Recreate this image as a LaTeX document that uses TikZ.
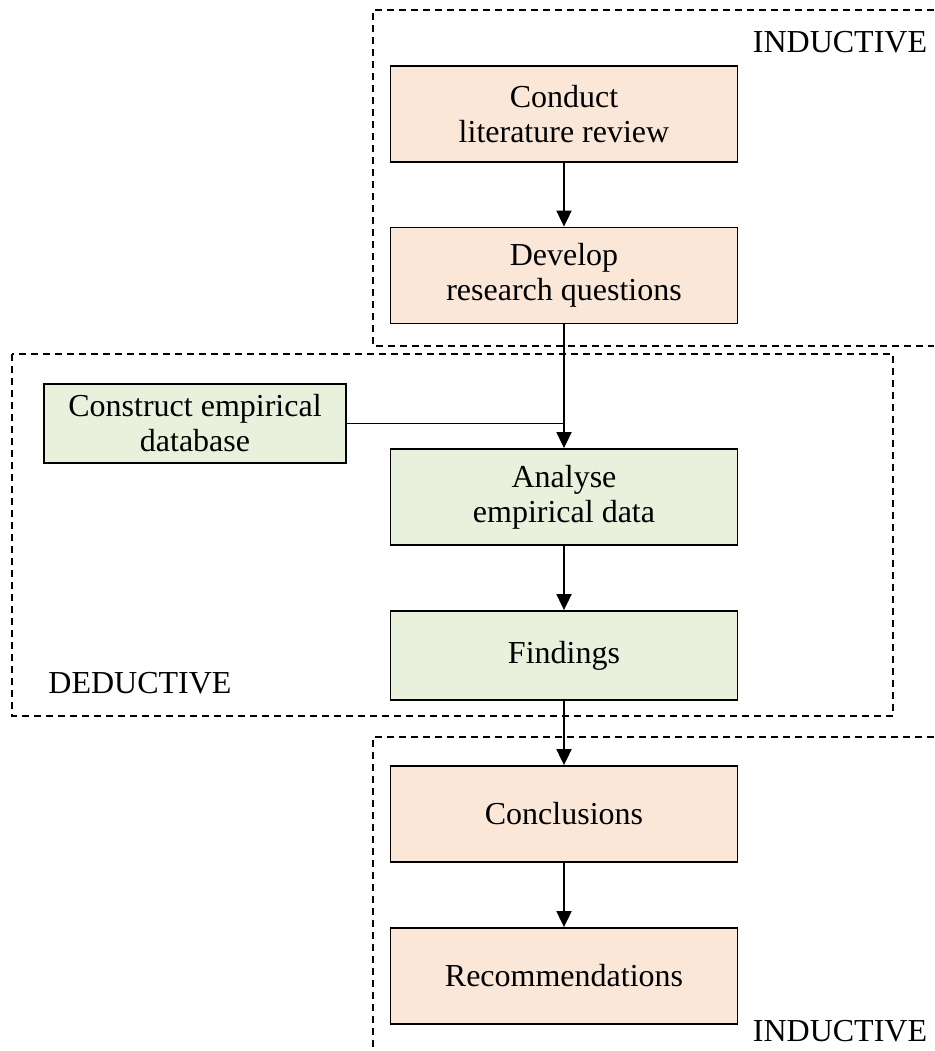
\documentclass[tikz,border=0pt]{standalone}
\usepackage{fontspec}
\setmainfont{Liberation Serif}
\usetikzlibrary{arrows.meta}
\definecolor{peach}{HTML}{FBE7D8}
\definecolor{sage}{HTML}{E9F1DD}

\begin{document}
\begin{tikzpicture}[x=1pt,y=-1pt]
  \tikzset{box style/.style = {draw, line width=1.8pt, align=center, minimum width=347pt, minimum height=96pt, inner sep=2pt, font=\fontsize{32}{35}\selectfont},
    ind/.style = {box style, fill=peach},
    ded/.style = {box style, fill=sage},
    zone/.style = {line width=1.5pt, dash pattern=on 7pt off 5pt},
    flow/.style = {line width=1.8pt, -{Triangle[length=16pt,width=15pt]}}}
  \useasboundingbox (0,0) rectangle (934,1051);
  % zones
   \draw[zone] (934,10) -- (373,10) -- (373,346) -- (934,346);
   \draw[zone] (12,354) rectangle (893,716);
   \draw[zone] (934,737) -- (373,737) -- (373,1051);
   \node[font=\fontsize{32}{35}\selectfont] (ind1) at (840,42) {INDUCTIVE};
   \node[font=\fontsize{32}{35}\selectfont] (ded1) at (140,683) {DEDUCTIVE};
   \node[font=\fontsize{32}{35}\selectfont] (ind2) at (840,1031) {INDUCTIVE};
  % steps
   \node[ind] (review) at (564,114) {Conduct\\literature review};
   \node[ind] (questions) at (564,275.5) {Develop\\research questions};
   \node[ded, minimum width=302pt, minimum height=79pt] (database) at (195,423.5) {Construct empirical\\database};
   \node[ded] (analyse) at (564,497) {Analyse\\empirical data};
   \node[ded, minimum height=89pt] (findings) at (564,655.5) {Findings};
   \node[ind] (conclusions) at (564,814) {Conclusions};
   \node[ind] (recommend) at (564,976) {Recommendations};
   \coordinate (join) at (analyse.north |- database.east);
  % arrows
   \draw[flow] (review) -- (questions);
   \draw[flow] (questions) -- (analyse);
   \draw[line width=1.8pt] (database.east) -- (join);
   \draw[flow] (analyse) -- (findings);
   \draw[flow] (findings) -- (conclusions);
   \draw[flow] (conclusions) -- (recommend);
\end{tikzpicture}
\end{document}
